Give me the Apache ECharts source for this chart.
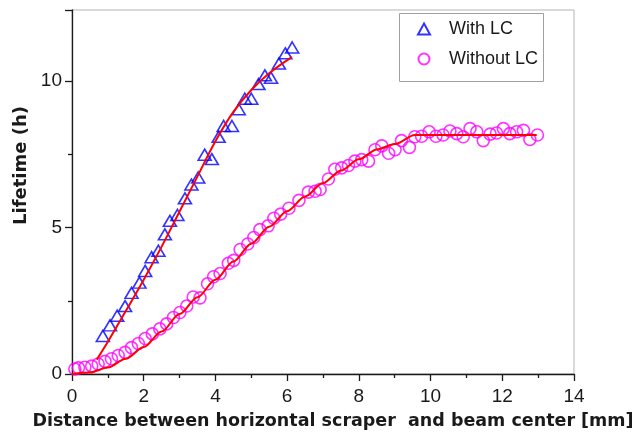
<!DOCTYPE html>
<html>
<head>
<meta charset="utf-8">
<script src="https://cdn.jsdelivr.net/npm/echarts@6/dist/echarts.min.js"></script>
<style>
  html, body { margin: 0; padding: 0; background: #fff; }
  #chart { width: 638px; height: 435px; }
</style>
</head>
<body>
<div id="chart"></div>
<script>
// measured points, with LC (triangles)
const withLcX = [0.86, 1.06, 1.26, 1.48, 1.66, 1.88, 2.04, 2.22, 2.41, 2.59, 2.73, 2.94, 3.15, 3.33, 3.52,
  3.70, 3.90, 4.09, 4.23, 4.46, 4.65, 4.82, 5.00, 5.20, 5.38, 5.55, 5.77, 5.95, 6.14]
const withLcY = [1.30, 1.66, 1.99, 2.32, 2.77, 3.12, 3.52, 3.99, 4.21, 4.77, 5.23, 5.43, 6.00, 6.47, 6.71,
  7.49, 7.34, 8.10, 8.47, 8.47, 9.04, 9.40, 9.40, 9.90, 10.20, 10.12, 10.60, 10.95, 11.15]

// measured points, without LC (circles)
const withoutLcX = [0.08, 0.18, 0.36, 0.55, 0.73, 0.92, 1.10, 1.29, 1.48, 1.66, 1.85, 2.04, 2.24, 2.45, 2.64,
  2.83, 3.01, 3.20, 3.38, 3.57, 3.78, 3.95, 4.13, 4.36, 4.51, 4.69, 4.90, 5.07, 5.24, 5.47,
  5.63, 5.82, 6.05, 6.33, 6.59, 6.78, 6.92, 7.15, 7.33, 7.52, 7.71, 7.89, 8.08, 8.27, 8.45,
  8.64, 8.83, 9.01, 9.19, 9.41, 9.56, 9.75, 9.96, 10.15, 10.35, 10.54, 10.73, 10.91, 11.10, 11.29,
  11.47, 11.66, 11.84, 12.03, 12.21, 12.40, 12.59, 12.77, 12.98]
const withoutLcY = [0.17, 0.21, 0.23, 0.27, 0.34, 0.43, 0.52, 0.63, 0.74, 0.90, 1.04, 1.21, 1.37, 1.54, 1.71,
  1.93, 2.10, 2.32, 2.63, 2.60, 3.08, 3.32, 3.43, 3.78, 3.88, 4.25, 4.44, 4.66, 4.93, 5.06,
  5.32, 5.46, 5.66, 5.93, 6.21, 6.24, 6.30, 6.66, 6.99, 7.04, 7.12, 7.27, 7.32, 7.27, 7.66,
  7.79, 7.54, 7.66, 7.97, 7.74, 8.10, 8.12, 8.27, 8.12, 8.16, 8.30, 8.21, 8.10, 8.38, 8.27,
  7.97, 8.19, 8.23, 8.38, 8.21, 8.27, 8.32, 8.01, 8.16]

// fitted curves (red)
const fitWithX = [0.69, 1.0, 1.5, 2.0, 2.5, 3.0, 3.5, 4.0, 4.5, 5.0, 5.5, 6.13]
const fitWithY = [0.49, 1.10, 2.15, 3.22, 4.35, 5.55, 6.75, 7.95, 8.95, 9.70, 10.27, 10.82]
const fitWithoutX = [0, 0.5, 1.0, 1.5, 2.0, 2.5, 3.0, 3.5, 4.0, 4.5, 5.0, 5.5, 6.0, 6.5, 7.0, 7.5, 8.0, 8.5, 9.0, 9.56, 12.96]
const fitWithoutY = [0, 0.05, 0.22, 0.52, 0.92, 1.45, 2.05, 2.62, 3.22, 3.84, 4.45, 5.03, 5.56, 6.06, 6.52, 6.95, 7.33, 7.67, 7.85, 8.16, 8.16]

const xTicks = [0, 2, 4, 6, 8, 10, 12, 14]
const yTicks = [0, 5, 10]

const zip = (xs, ys) => xs.map((x, i) => [x, ys[i]])

const font = '"Liberation Sans", Arial, sans-serif'
const titleFont = '"DejaVu Sans", sans-serif'
const ink = '#1a1a1a'

const chart = echarts.init(document.getElementById('chart'))
chart.setOption({
  animation: false,
  backgroundColor: '#fff',
  textStyle: { fontFamily: font },
  grid: {
    left: 72,
    right: 64,
    top: 10,
    bottom: 52,
    show: true,
    borderColor: '#b4b4b4',
    borderWidth: 1,
  },
  graphic: [
    {
      type: 'rect',
      left: 399,
      top: 13,
      shape: { width: 144, height: 68 },
      style: { fill: '#fff', stroke: '#a0a0a0', lineWidth: 1 },
      z: 10,
    },
  ],
  legend: {
    data: ['With LC', 'Without LC'],
    orient: 'vertical',
    left: 417,
    top: 20,
    padding: 0,
    itemGap: 12,
    itemWidth: 12,
    itemHeight: 11,
    z: 11,
    textStyle: { fontSize: 18, color: ink, fontFamily: font, padding: [0, 0, 0, 14] },
  },
  xAxis: {
    type: 'value',
    min: 0,
    max: 14,
    interval: 2,
    name: 'Distance between horizontal scraper  and beam center [mm]',
    nameLocation: 'middle',
    nameGap: 38,
    nameTextStyle: {
      fontSize: 17.5,
      fontWeight: 'bold',
      fontFamily: titleFont,
      color: ink,
      padding: [0, 0, 0, 20],
    },
    axisLine: { lineStyle: { color: ink, width: 1.3 } },
    axisTick: { length: 7, lineStyle: { color: ink, width: 1.3 } },
    minorTick: { show: true, splitNumber: 2, length: 4, lineStyle: { color: ink, width: 1.3 } },
    axisLabel: {
      fontSize: 19,
      color: ink,
      margin: 13,
      formatter: (v) => (xTicks.includes(v) ? String(v) : ''),
    },
    splitLine: { show: false },
  },
  yAxis: {
    type: 'value',
    min: 0,
    max: 12.43,
    interval: 5,
    name: 'Lifetime (h)',
    nameLocation: 'middle',
    nameGap: 40,
    nameTextStyle: {
      fontSize: 18,
      fontWeight: 'bold',
      fontFamily: titleFont,
      color: ink,
      padding: [0, 0, 0, 53],
    },
    axisLine: { lineStyle: { color: ink, width: 1.3 } },
    axisTick: { length: 7, lineStyle: { color: ink, width: 1.3 } },
    minorTick: { show: true, splitNumber: 2, length: 4, lineStyle: { color: ink, width: 1.3 } },
    axisLabel: {
      fontSize: 19,
      color: ink,
      margin: 10,
      formatter: (v) => (yTicks.includes(v) ? String(v) : ''),
    },
    splitLine: { show: false },
  },
  series: [
    {
      name: 'With LC',
      type: 'scatter',
      symbol: 'triangle',
      symbolSize: [13, 11],
      itemStyle: { color: 'rgba(0,0,0,0)', borderColor: '#0000ff', borderWidth: 1.6 },
      data: zip(withLcX, withLcY),
      z: 2,
    },
    {
      name: 'Without LC',
      type: 'scatter',
      symbol: 'circle',
      symbolSize: 12,
      itemStyle: { color: 'rgba(0,0,0,0)', borderColor: '#ff00ff', borderWidth: 1.6 },
      data: zip(withoutLcX, withoutLcY),
      z: 2,
    },
    {
      name: 'fit with',
      type: 'line',
      showSymbol: false,
      smooth: 0.4,
      lineStyle: { color: '#ff0000', width: 2 },
      data: zip(fitWithX, fitWithY),
      z: 3,
    },
    {
      name: 'fit without',
      type: 'line',
      showSymbol: false,
      smooth: 0.3,
      smoothMonotone: 'x',
      lineStyle: { color: '#ff0000', width: 2 },
      data: zip(fitWithoutX, fitWithoutY),
      z: 3,
    },
  ],
})
</script>
</body>
</html>
